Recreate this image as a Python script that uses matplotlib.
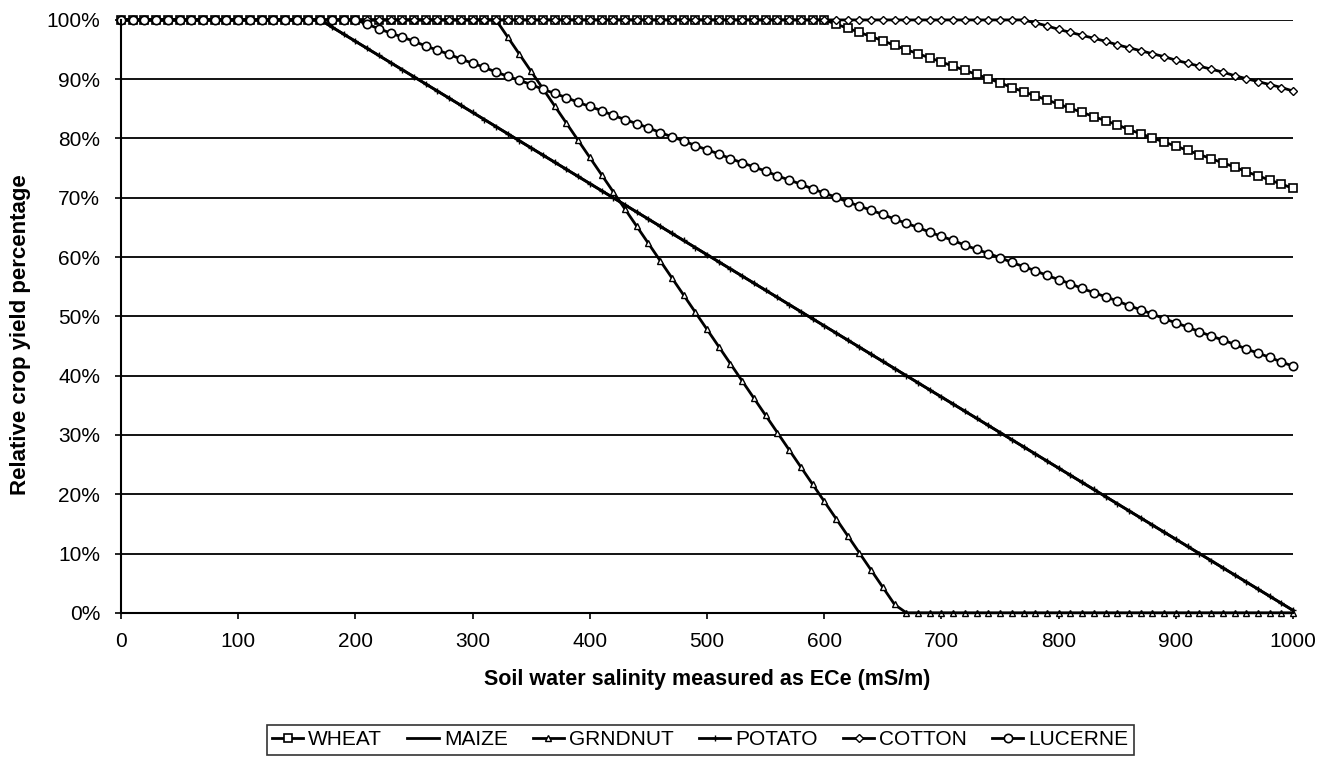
import matplotlib
matplotlib.use('Agg')
import matplotlib.pyplot as plt
from matplotlib.ticker import PercentFormatter

plt.rcParams['font.family'] = ['Liberation Sans', 'DejaVu Sans']

# soil water salinity ECe (mS/m), one point every 10 mS/m
ece = list(range(0, 1001, 10))

# relative yield (%)
wheat = [
    100, 100, 100, 100, 100, 100, 100, 100, 100, 100,
    100, 100, 100, 100, 100, 100, 100, 100, 100, 100,
    100, 100, 100, 100, 100, 100, 100, 100, 100, 100,
    100, 100, 100, 100, 100, 100, 100, 100, 100, 100,
    100, 100, 100, 100, 100, 100, 100, 100, 100, 100,
    100, 100, 100, 100, 100, 100, 100, 100, 100, 100,
    100, 99.3, 98.6, 97.9, 97.2, 96.5, 95.7, 95.0, 94.3, 93.6,
    92.9, 92.2, 91.5, 90.8, 90.1, 89.4, 88.6, 87.9, 87.2, 86.5,
    85.8, 85.1, 84.4, 83.7, 83.0, 82.3, 81.5, 80.8, 80.1, 79.4,
    78.7, 78.0, 77.3, 76.6, 75.9, 75.2, 74.4, 73.7, 73.0, 72.3,
    71.6,
]

maize = [
    100, 100, 100, 100, 100, 100, 100, 100, 100, 100,
    100, 100, 100, 100, 100, 100, 100, 100, 98.8, 97.6,
    96.4, 95.2, 94.0, 92.8, 91.6, 90.4, 89.2, 88.0, 86.8, 85.6,
    84.4, 83.2, 82.0, 80.8, 79.6, 78.4, 77.2, 76.0, 74.8, 73.6,
    72.4, 71.2, 70.0, 68.8, 67.6, 66.4, 65.2, 64.0, 62.8, 61.6,
    60.4, 59.2, 58.0, 56.8, 55.6, 54.4, 53.2, 52.0, 50.8, 49.6,
    48.4, 47.2, 46.0, 44.8, 43.6, 42.4, 41.2, 40.0, 38.8, 37.6,
    36.4, 35.2, 34.0, 32.8, 31.6, 30.4, 29.2, 28.0, 26.8, 25.6,
    24.4, 23.2, 22.0, 20.8, 19.6, 18.4, 17.2, 16.0, 14.8, 13.6,
    12.4, 11.2, 10.0, 8.8, 7.6, 6.4, 5.2, 4.0, 2.8, 1.6,
    0.4,
]

grndnut = [
    100, 100, 100, 100, 100, 100, 100, 100, 100, 100,
    100, 100, 100, 100, 100, 100, 100, 100, 100, 100,
    100, 100, 100, 100, 100, 100, 100, 100, 100, 100,
    100, 100, 100, 97.1, 94.2, 91.3, 88.4, 85.5, 82.6, 79.7,
    76.8, 73.9, 71.0, 68.1, 65.2, 62.3, 59.4, 56.5, 53.6, 50.7,
    47.8, 44.9, 42.0, 39.1, 36.2, 33.3, 30.4, 27.5, 24.6, 21.7,
    18.8, 15.9, 13.0, 10.1, 7.2, 4.3, 1.4, 0, 0, 0,
    0, 0, 0, 0, 0, 0, 0, 0, 0, 0,
    0, 0, 0, 0, 0, 0, 0, 0, 0, 0,
    0, 0, 0, 0, 0, 0, 0, 0, 0, 0,
    0,
]

# potato follows the same curve as maize (lines overlap in the chart)
potato = [
    100, 100, 100, 100, 100, 100, 100, 100, 100, 100,
    100, 100, 100, 100, 100, 100, 100, 100, 98.8, 97.6,
    96.4, 95.2, 94.0, 92.8, 91.6, 90.4, 89.2, 88.0, 86.8, 85.6,
    84.4, 83.2, 82.0, 80.8, 79.6, 78.4, 77.2, 76.0, 74.8, 73.6,
    72.4, 71.2, 70.0, 68.8, 67.6, 66.4, 65.2, 64.0, 62.8, 61.6,
    60.4, 59.2, 58.0, 56.8, 55.6, 54.4, 53.2, 52.0, 50.8, 49.6,
    48.4, 47.2, 46.0, 44.8, 43.6, 42.4, 41.2, 40.0, 38.8, 37.6,
    36.4, 35.2, 34.0, 32.8, 31.6, 30.4, 29.2, 28.0, 26.8, 25.6,
    24.4, 23.2, 22.0, 20.8, 19.6, 18.4, 17.2, 16.0, 14.8, 13.6,
    12.4, 11.2, 10.0, 8.8, 7.6, 6.4, 5.2, 4.0, 2.8, 1.6,
    0.4,
]

cotton = [
    100, 100, 100, 100, 100, 100, 100, 100, 100, 100,
    100, 100, 100, 100, 100, 100, 100, 100, 100, 100,
    100, 100, 100, 100, 100, 100, 100, 100, 100, 100,
    100, 100, 100, 100, 100, 100, 100, 100, 100, 100,
    100, 100, 100, 100, 100, 100, 100, 100, 100, 100,
    100, 100, 100, 100, 100, 100, 100, 100, 100, 100,
    100, 100, 100, 100, 100, 100, 100, 100, 100, 100,
    100, 100, 100, 100, 100, 100, 100, 100, 99.5, 99.0,
    98.4, 97.9, 97.4, 96.9, 96.4, 95.8, 95.3, 94.8, 94.3, 93.8,
    93.2, 92.7, 92.2, 91.7, 91.2, 90.6, 90.1, 89.6, 89.1, 88.6,
    88.0,
]

lucerne = [
    100, 100, 100, 100, 100, 100, 100, 100, 100, 100,
    100, 100, 100, 100, 100, 100, 100, 100, 100, 100,
    100, 99.3, 98.5, 97.8, 97.1, 96.4, 95.6, 94.9, 94.2, 93.4,
    92.7, 92.0, 91.2, 90.5, 89.8, 89.1, 88.3, 87.6, 86.9, 86.1,
    85.4, 84.7, 83.9, 83.2, 82.5, 81.8, 81.0, 80.3, 79.6, 78.8,
    78.1, 77.4, 76.6, 75.9, 75.2, 74.5, 73.7, 73.0, 72.3, 71.5,
    70.8, 70.1, 69.3, 68.6, 67.9, 67.2, 66.4, 65.7, 65.0, 64.2,
    63.5, 62.8, 62.0, 61.3, 60.6, 59.9, 59.1, 58.4, 57.7, 56.9,
    56.2, 55.5, 54.7, 54.0, 53.3, 52.6, 51.8, 51.1, 50.4, 49.6,
    48.9, 48.2, 47.4, 46.7, 46.0, 45.3, 44.5, 43.8, 43.1, 42.3,
    41.6,
]

fig = plt.figure(figsize=(13.29, 7.66), dpi=100)
ax = fig.add_axes([0.091, 0.2, 0.882, 0.774])

ax.set_axisbelow(True)
ax.grid(axis='y', color='black', linewidth=1.3)

lw = 2.0
ax.plot(ece, wheat, color='black', lw=lw, marker='s', ms=6,
        mfc='white', mec='black', mew=1.2, label='WHEAT', clip_on=False)
ax.plot(ece, maize, color='black', lw=lw, label='MAIZE', clip_on=False)
ax.plot(ece, grndnut, color='black', lw=lw, marker='^', ms=4.5,
        mfc='white', mec='black', mew=1.0, label='GRNDNUT', clip_on=False)
ax.plot(ece, potato, color='black', lw=lw, marker='+', ms=5,
        mew=1.0, label='POTATO', clip_on=False)
ax.plot(ece, cotton, color='black', lw=lw, marker='D', ms=4.5,
        mfc='white', mec='black', mew=1.0, label='COTTON', clip_on=False)
ax.plot(ece, lucerne, color='black', lw=lw, marker='o', ms=6,
        mfc='white', mec='black', mew=1.2, label='LUCERNE', clip_on=False)

ax.set_xlim(0, 1000)
ax.set_ylim(0, 100)
ax.set_xticks(range(0, 1001, 100))
ax.set_yticks(range(0, 101, 10))
ax.yaxis.set_major_formatter(PercentFormatter(decimals=0))
ax.tick_params(axis='both', labelsize=15, direction='out', length=4,
               width=1.2, color='black')
ax.tick_params(axis='x', pad=10)
ax.tick_params(axis='y', pad=11)

for s in ['top', 'right']:
    ax.spines[s].set_visible(False)
for s in ['left', 'bottom']:
    ax.spines[s].set_linewidth(1.5)

ax.set_xlabel('Soil water salinity measured as ECe (mS/m)',
              fontsize=15.5, fontweight='bold', labelpad=13)
ax.set_ylabel('Relative crop yield percentage',
              fontsize=16, fontweight='bold')
ax.yaxis.set_label_coords(-0.077, 0.47)

leg = fig.legend(loc='center', bbox_to_anchor=(0.527, 0.034), ncol=6,
                 fontsize=15, frameon=True, fancybox=False,
                 edgecolor='black', handlelength=1.5, handletextpad=0.25,
                 columnspacing=1.2, borderpad=0.25)
leg.get_frame().set_linewidth(1.2)

fig.savefig('out.png', dpi=100)
